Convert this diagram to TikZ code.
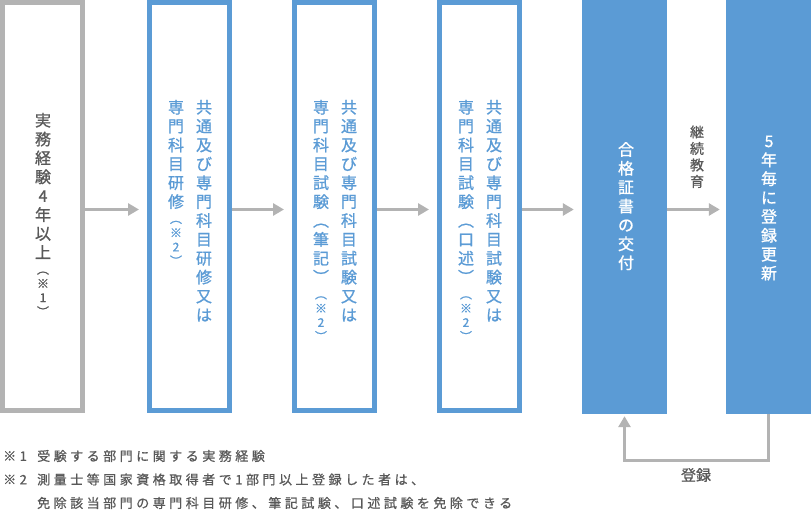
\documentclass[tikz,border=0pt]{standalone}
\usepackage{fontspec}
\setmainfont{Noto Sans CJK JP}[FakeBold=1]
\newfontfamily\notefont{Noto Sans CJK JP}[LetterSpace=27, FakeBold=0.8]
\usetikzlibrary{arrows.meta}

\definecolor{boxblue}{HTML}{5B9BD5}
\definecolor{framegray}{HTML}{B3B3B3}
\definecolor{textgray}{HTML}{595959}

% Vertical text: one character per line, second argument in small size
\ExplSyntaxOn
\cs_new_protected:Npn \tate_char:n #1
  { \hbox_to_wd:nn { 0pt } { \hss #1 \rule[-.3em]{0pt}{1.18em} \hss } }
\NewDocumentCommand \tatetext { m m }
  {
    \vbox:n
      {
        \offinterlineskip
        \tl_map_function:nN {#1} \tate_char:n
        \group_begin:
          \fontsize{12}{12}\selectfont
          \tl_map_function:nN {#2} \tate_char:n
        \group_end:
      }
  }
\ExplSyntaxOff

\tikzset{
  outlinebox/.style={draw=#1, line width=5pt, minimum width=80pt, minimum height=408pt, inner sep=0pt},
  fillbox/.style={fill=boxblue, minimum width=85pt, minimum height=414pt, inner sep=0pt},
  tate/.style={inner sep=0pt, font=\fontsize{16}{16}\selectfont},
  note/.style={inner sep=0pt, text=textgray, font=\notefont\fontsize{13}{13}\selectfont},
  link/.style={draw=framegray, line width=3pt, shorten >=8pt, -{Triangle[length=11pt,width=12pt]}},
}

\begin{document}
\begin{tikzpicture}[x=1pt,y=1pt]
\useasboundingbox (0,0) rectangle (811,511);

% Steps
\node[outlinebox=framegray] (exp) at (42.5,304.5) {};
\node[outlinebox=boxblue] (train) at (189.5,304.5) {};
\node[outlinebox=boxblue] (written) at (334.5,304.5) {};
\node[outlinebox=boxblue] (oral) at (479.5,304.5) {};
\node[fillbox] (cert) at (624.5,304) {};
\node[fillbox] (renew) at (768.5,304) {};

% Texts in the steps (right column first)
\node[tate, text=textgray, anchor=north] (expText) at (43,399) {\tatetext{実務経験4年以上}{︵※1︶}};

\node[tate, text=boxblue, anchor=north] (trainRight) at (204,412) {\tatetext{共通及び専門科目研修又は}{}};
\node[tate, text=boxblue, anchor=north] (trainLeft) at (176,412) {\tatetext{専門科目研修}{︵※2︶}};

\node[tate, text=boxblue, anchor=north] (writtenRight) at (349,412) {\tatetext{共通及び専門科目試験又は}{}};
\node[tate, text=boxblue, anchor=north] (writtenLeft) at (321,412) {\tatetext{専門科目試験︵筆記︶}{︵※2︶}};

\node[tate, text=boxblue, anchor=north] (oralRight) at (494,412) {\tatetext{共通及び専門科目試験又は}{}};
\node[tate, text=boxblue, anchor=north] (oralLeft) at (466,412) {\tatetext{専門科目試験︵口述︶}{︵※2︶}};

\node[tate, text=white] (certText) at (626,303.5) {\tatetext{合格証書の交付}{}};
\node[tate, text=white] (renewText) at (769,302.5) {\tatetext{5年毎に登録更新}{}};

% Flow
\draw[link] ([yshift=-3pt]exp.east) -- ([yshift=-3pt]train.west);
\draw[link] ([yshift=-3pt]train.east) -- ([yshift=-3pt]written.west);
\draw[link] ([yshift=-3pt]written.east) -- ([yshift=-3pt]oral.west);
\draw[link] ([yshift=-3pt]oral.east) -- ([yshift=-2.5pt]cert.west);
\draw[link, shorten >=6pt] ([yshift=-2.5pt]cert.east) -- ([yshift=-2.5pt]renew.west);
\node[tate, text=textgray, font=\fontsize{14}{14}\selectfont] (ceLabel) at (697,353) {\tatetext{継続教育}{}};

% Registration loop
\draw[link, shorten >=2pt] (renew.south) -- ++(0,-46) -| (cert.south);
\node[note, font=\fontsize{15}{15}\selectfont] (regLabel) at (696,36) {登録};

% Notes
\node[note, anchor=west] (mark1) at (3,55) {※1};
\node[note, anchor=west] (note1) at (37,55) {受験する部門に関する実務経験};
\node[note, anchor=west] (mark2) at (3,31.5) {※2};
\node[note, anchor=west] (note2) at (37,31.5) {測量士等国家資格取得者で1部門以上登録した者は、};
\node[note, anchor=west] (note3) at (37,8) {免除該当部門の専門科目研修、筆記試験、口述試験を免除できる};
\end{tikzpicture}
\end{document}
